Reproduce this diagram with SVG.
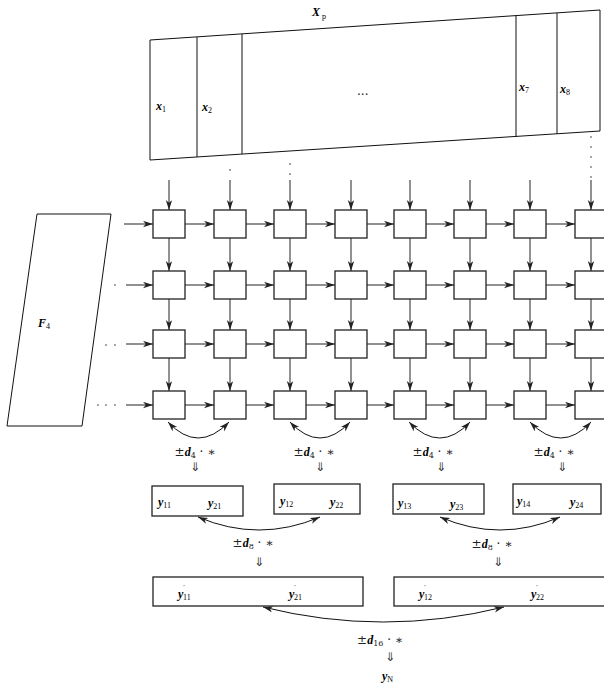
<svg xmlns="http://www.w3.org/2000/svg" width="604" height="686" viewBox="0 0 604 686">
<style>
.ln{fill:none;stroke:#111;stroke-width:1}
.bx{fill:#fff;stroke:#222;stroke-width:1.3}
.ar line{stroke:#222;stroke-width:1;marker-end:url(#ah)}
.cv{fill:none;stroke:#111;stroke-width:1;marker-end:url(#ah);marker-start:url(#ah)}
.m{font-family:"Liberation Serif",serif;font-style:italic;font-weight:bold;font-size:12px;fill:#000}
.s{font-style:normal;font-weight:normal;font-size:8px}
.p{font-family:"DejaVu Sans",sans-serif;font-style:normal;font-weight:normal;font-size:7px}
.t{font-family:"DejaVu Serif","Liberation Serif",serif;font-size:12px;fill:#222}
.dn{font-family:"DejaVu Sans",sans-serif;font-size:12px;fill:#333}
.dd{fill:#333}
</style>
<defs>
<marker id="ah" markerUnits="userSpaceOnUse" markerWidth="11" markerHeight="8" refX="10" refY="3.2" orient="auto-start-reverse">
<path d="M0,0 L10,3.2 L0,6.4 L2.8,3.2 z" fill="#222"/>
</marker>
</defs>

<g id="Xp">
<polygon class="ln" points="150,40 600,10 600,131 150,160"/>
<line class="ln" x1="197" y1="37" x2="197" y2="157"/>
<line class="ln" x1="242" y1="34" x2="242" y2="154"/>
<line class="ln" x1="516" y1="16" x2="516" y2="137"/>
<line class="ln" x1="557" y1="13" x2="557" y2="134"/>
<text class="m" x="312" y="16">X<tspan class="s" dx="2" dy="3">p</tspan></text>
<text class="m" x="156" y="110" font-size="11">x<tspan class="s" dy="2">1</tspan></text>
<text class="m" x="202" y="111" font-size="11">x<tspan class="s" dy="2">2</tspan></text>
<text class="t" x="357" y="99" font-size="11">···</text>
<text class="m" x="519" y="91" font-size="11">x<tspan class="s" dy="2">7</tspan></text>
<text class="m" x="560" y="93" font-size="11">x<tspan class="s" dy="2">8</tspan></text>
</g>

<g id="F4">
<polygon class="ln" points="37,214 111,214 82,426 7,426"/>
<text class="m" x="38" y="327">F<tspan class="s" dy="2">4</tspan></text>
</g>

<g id="dots">
<circle class="dd" cx="230" cy="170" r="0.8"/>
<circle class="dd" cx="290" cy="164" r="0.8"/>
<circle class="dd" cx="290" cy="174" r="0.8"/>
<circle class="dd" cx="591" cy="137" r="0.8"/>
<circle class="dd" cx="591" cy="147" r="0.8"/>
<circle class="dd" cx="591" cy="157" r="0.8"/>
<circle class="dd" cx="591" cy="167" r="0.8"/>
<circle class="dd" cx="591" cy="177" r="0.8"/>
<circle class="dd" cx="115" cy="285" r="0.8"/>
<circle class="dd" cx="106" cy="345" r="0.8"/>
<circle class="dd" cx="115" cy="345" r="0.8"/>
<circle class="dd" cx="98" cy="405" r="0.8"/>
<circle class="dd" cx="106" cy="405" r="0.8"/>
<circle class="dd" cx="115" cy="405" r="0.8"/>
</g>

<g id="grid">
<g id="r1"><rect class="bx" x="153" y="210" width="32" height="28"/><rect class="bx" x="214" y="210" width="32" height="28"/><rect class="bx" x="274" y="210" width="32" height="28"/><rect class="bx" x="335" y="210" width="32" height="28"/><rect class="bx" x="394" y="210" width="32" height="28"/><rect class="bx" x="454" y="210" width="32" height="28"/><rect class="bx" x="514" y="210" width="32" height="28"/><rect class="bx" x="575" y="210" width="32" height="28"/></g>
<g id="r2"><rect class="bx" x="153" y="271" width="32" height="28"/><rect class="bx" x="214" y="271" width="32" height="28"/><rect class="bx" x="274" y="271" width="32" height="28"/><rect class="bx" x="335" y="271" width="32" height="28"/><rect class="bx" x="394" y="271" width="32" height="28"/><rect class="bx" x="454" y="271" width="32" height="28"/><rect class="bx" x="514" y="271" width="32" height="28"/><rect class="bx" x="575" y="271" width="32" height="28"/></g>
<g id="r3"><rect class="bx" x="153" y="330" width="32" height="28"/><rect class="bx" x="214" y="330" width="32" height="28"/><rect class="bx" x="274" y="330" width="32" height="28"/><rect class="bx" x="335" y="330" width="32" height="28"/><rect class="bx" x="394" y="330" width="32" height="28"/><rect class="bx" x="454" y="330" width="32" height="28"/><rect class="bx" x="514" y="330" width="32" height="28"/><rect class="bx" x="575" y="330" width="32" height="28"/></g>
<g id="r4"><rect class="bx" x="153" y="391" width="32" height="28"/><rect class="bx" x="214" y="391" width="32" height="28"/><rect class="bx" x="274" y="391" width="32" height="28"/><rect class="bx" x="335" y="391" width="32" height="28"/><rect class="bx" x="394" y="391" width="32" height="28"/><rect class="bx" x="454" y="391" width="32" height="28"/><rect class="bx" x="514" y="391" width="32" height="28"/><rect class="bx" x="575" y="391" width="32" height="28"/></g>
</g>

<g id="y1"><rect class="bx" x="152" y="486" width="91" height="30"/>
<text class="m" x="158" y="506">y<tspan class="s" dy="2">11</tspan></text>
<text class="m" x="208" y="507">y<tspan class="s" dy="2">21</tspan></text></g>
<g id="y2"><rect class="bx" x="274" y="484" width="86" height="30"/>
<text class="m" x="280" y="505">y<tspan class="s" dy="2">12</tspan></text>
<text class="m" x="330" y="506">y<tspan class="s" dy="2">22</tspan></text></g>
<g id="y3"><rect class="bx" x="393" y="484" width="91" height="30"/>
<text class="m" x="398" y="507">y<tspan class="s" dy="2">13</tspan></text>
<text class="m" x="450" y="508">y<tspan class="s" dy="2">23</tspan></text></g>
<g id="y4"><rect class="bx" x="513" y="484" width="88" height="30"/>
<text class="m" x="517" y="505">y<tspan class="s" dy="2">14</tspan></text>
<text class="m" x="570" y="506">y<tspan class="s" dy="2">24</tspan></text></g>

<g id="yp1"><rect class="bx" x="153" y="577" width="210" height="29"/>
<text class="m" x="178" y="598">y<tspan class="p" dx="0" dy="-8">′</tspan><tspan class="s" dx="-2" dy="10">11</tspan></text>
<text class="m" x="289" y="598">y<tspan class="p" dx="0" dy="-8">′</tspan><tspan class="s" dx="-2" dy="10">21</tspan></text></g>
<g id="yp2"><rect class="bx" x="394" y="577" width="212" height="29"/>
<text class="m" x="419" y="598">y<tspan class="p" dx="0" dy="-8">′</tspan><tspan class="s" dx="-2" dy="10">12</tspan></text>
<text class="m" x="531" y="598">y<tspan class="p" dx="0" dy="-8">′</tspan><tspan class="s" dx="-2" dy="10">22</tspan></text></g>

<g id="yN"><text class="m" x="382" y="680">y<tspan class="s" dy="2">N</tspan></text></g>

<g id="connectors">
<g class="ar">
<line x1="124" y1="224" x2="153" y2="224"/><line x1="185" y1="224" x2="214" y2="224"/><line x1="246" y1="224" x2="274" y2="224"/><line x1="306" y1="224" x2="335" y2="224"/><line x1="367" y1="224" x2="394" y2="224"/><line x1="426" y1="224" x2="454" y2="224"/><line x1="486" y1="224" x2="514" y2="224"/><line x1="546" y1="224" x2="575" y2="224"/>
<line x1="126" y1="285" x2="153" y2="285"/><line x1="185" y1="285" x2="214" y2="285"/><line x1="246" y1="285" x2="274" y2="285"/><line x1="306" y1="285" x2="335" y2="285"/><line x1="367" y1="285" x2="394" y2="285"/><line x1="426" y1="285" x2="454" y2="285"/><line x1="486" y1="285" x2="514" y2="285"/><line x1="546" y1="285" x2="575" y2="285"/>
<line x1="126" y1="344" x2="153" y2="344"/><line x1="185" y1="344" x2="214" y2="344"/><line x1="246" y1="344" x2="274" y2="344"/><line x1="306" y1="344" x2="335" y2="344"/><line x1="367" y1="344" x2="394" y2="344"/><line x1="426" y1="344" x2="454" y2="344"/><line x1="486" y1="344" x2="514" y2="344"/><line x1="546" y1="344" x2="575" y2="344"/>
<line x1="126" y1="405" x2="153" y2="405"/><line x1="185" y1="405" x2="214" y2="405"/><line x1="246" y1="405" x2="274" y2="405"/><line x1="306" y1="405" x2="335" y2="405"/><line x1="367" y1="405" x2="394" y2="405"/><line x1="426" y1="405" x2="454" y2="405"/><line x1="486" y1="405" x2="514" y2="405"/><line x1="546" y1="405" x2="575" y2="405"/>
<line x1="169" y1="180" x2="169" y2="210"/><line x1="230" y1="180" x2="230" y2="210"/><line x1="290" y1="180" x2="290" y2="210"/><line x1="351" y1="180" x2="351" y2="210"/><line x1="410" y1="180" x2="410" y2="210"/><line x1="470" y1="180" x2="470" y2="210"/><line x1="530" y1="180" x2="530" y2="210"/><line x1="591" y1="180" x2="591" y2="210"/>
<line x1="169" y1="238" x2="169" y2="271"/><line x1="230" y1="238" x2="230" y2="271"/><line x1="290" y1="238" x2="290" y2="271"/><line x1="351" y1="238" x2="351" y2="271"/><line x1="410" y1="238" x2="410" y2="271"/><line x1="470" y1="238" x2="470" y2="271"/><line x1="530" y1="238" x2="530" y2="271"/><line x1="591" y1="238" x2="591" y2="271"/>
<line x1="169" y1="299" x2="169" y2="330"/><line x1="230" y1="299" x2="230" y2="330"/><line x1="290" y1="299" x2="290" y2="330"/><line x1="351" y1="299" x2="351" y2="330"/><line x1="410" y1="299" x2="410" y2="330"/><line x1="470" y1="299" x2="470" y2="330"/><line x1="530" y1="299" x2="530" y2="330"/><line x1="591" y1="299" x2="591" y2="330"/>
<line x1="169" y1="358" x2="169" y2="391"/><line x1="230" y1="358" x2="230" y2="391"/><line x1="290" y1="358" x2="290" y2="391"/><line x1="351" y1="358" x2="351" y2="391"/><line x1="410" y1="358" x2="410" y2="391"/><line x1="470" y1="358" x2="470" y2="391"/><line x1="530" y1="358" x2="530" y2="391"/><line x1="591" y1="358" x2="591" y2="391"/>
</g>
<path class="cv" d="M168,422 Q198,454 229,422"/>
<path class="cv" d="M290,422 Q320,454 350,422"/>
<path class="cv" d="M409,422 Q440,454 470,422"/>
<path class="cv" d="M530,422 Q561,454 591,422"/>
<path class="cv" d="M198,517 Q259,543 320,517"/>
<path class="cv" d="M440,517 Q500,543 560,517"/>
<path class="cv" d="M263,607 Q383,637 504,607"/>
</g>

<g id="labels">
<text class="t" x="195" y="456" text-anchor="middle">±<tspan class="m">d</tspan><tspan font-size="8" dy="2">4</tspan><tspan dy="-2"> · ∗</tspan></text>
<text class="dn" x="195" y="471" text-anchor="middle">⇓</text>
<text class="t" x="314" y="456" text-anchor="middle">±<tspan class="m">d</tspan><tspan font-size="8" dy="2">4</tspan><tspan dy="-2"> · ∗</tspan></text>
<text class="dn" x="320" y="471" text-anchor="middle">⇓</text>
<text class="t" x="433" y="456" text-anchor="middle">±<tspan class="m">d</tspan><tspan font-size="8" dy="2">4</tspan><tspan dy="-2"> · ∗</tspan></text>
<text class="dn" x="441" y="471" text-anchor="middle">⇓</text>
<text class="t" x="554" y="456" text-anchor="middle">±<tspan class="m">d</tspan><tspan font-size="8" dy="2">4</tspan><tspan dy="-2"> · ∗</tspan></text>
<text class="dn" x="562" y="471" text-anchor="middle">⇓</text>
<text class="t" x="253" y="547" text-anchor="middle">±<tspan class="m">d</tspan><tspan font-size="8" dy="2">8</tspan><tspan dy="-2"> · ∗</tspan></text>
<text class="dn" x="259" y="566" text-anchor="middle">⇓</text>
<text class="t" x="492" y="548" text-anchor="middle">±<tspan class="m">d</tspan><tspan font-size="8" dy="2">8</tspan><tspan dy="-2"> · ∗</tspan></text>
<text class="dn" x="498" y="566" text-anchor="middle">⇓</text>
<text class="t" x="380" y="644" text-anchor="middle">±<tspan class="m">d</tspan><tspan font-size="8" dy="2">16</tspan><tspan dy="-2"> · ∗</tspan></text>
<text class="dn" x="390" y="661" text-anchor="middle">⇓</text>
</g>
</svg>
